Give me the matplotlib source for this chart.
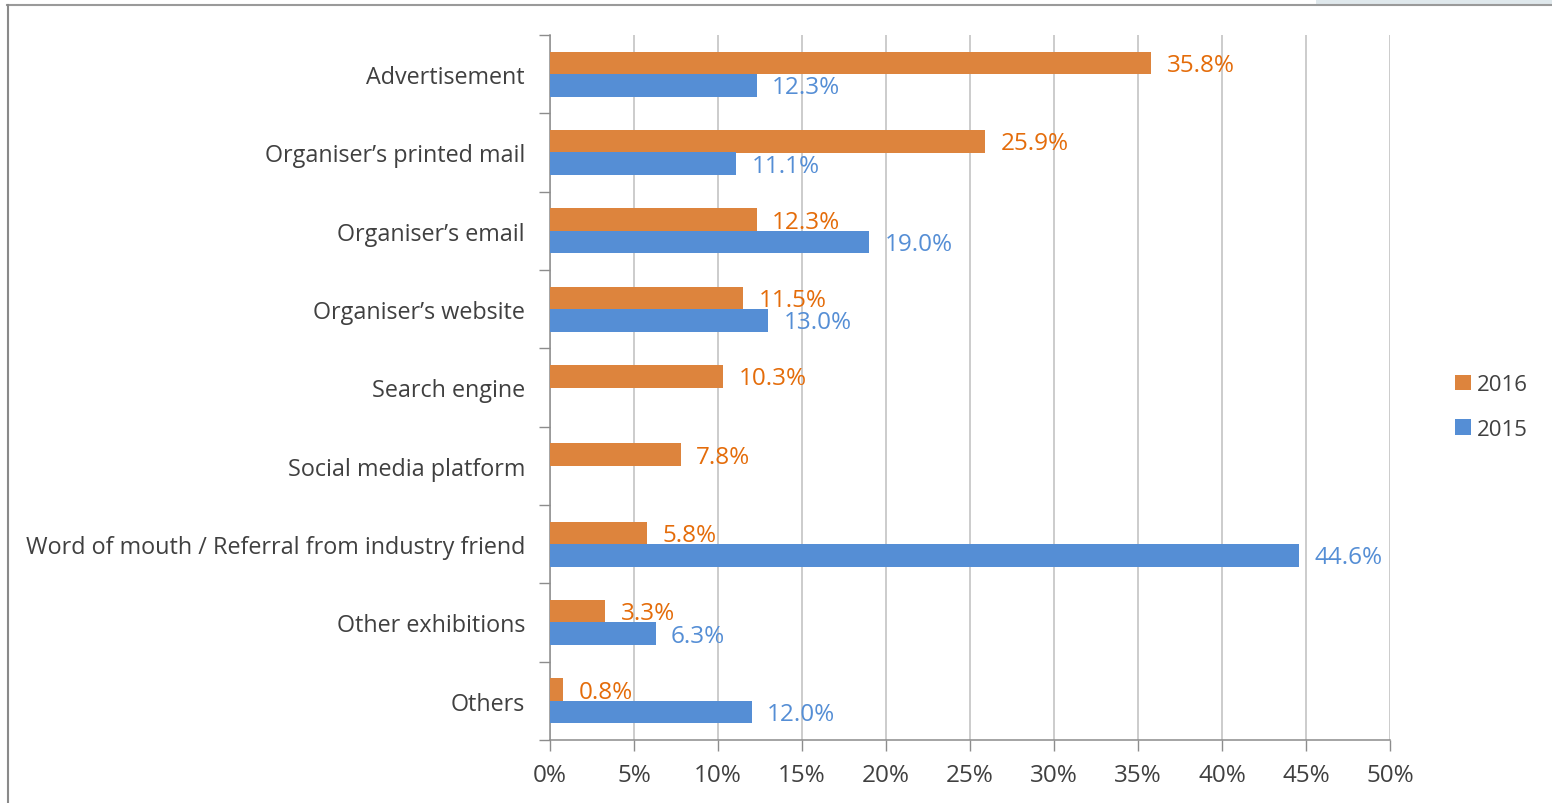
import matplotlib
matplotlib.use("Agg")
import matplotlib.pyplot as plt
from matplotlib.lines import Line2D
from matplotlib.patches import Rectangle, Patch
import numpy as np

categories = [
    "Advertisement",
    "Organiser’s printed mail",
    "Organiser’s email",
    "Organiser’s website",
    "Search engine",
    "Social media platform",
    "Word of mouth / Referral from industry friend",
    "Other exhibitions",
    "Others",
]
values_2016 = [35.8, 25.9, 12.3, 11.5, 10.3, 7.8, 5.8, 3.3, 0.8]
values_2015 = [12.3, 11.1, 19.0, 13.0, np.nan, np.nan, 44.6, 6.3, 12.0]
x_ticks = [0, 5, 10, 15, 20, 25, 30, 35, 40, 45, 50]

ORANGE = "#DD843D"
ORANGE_TXT = "#E46C0A"
BLUE = "#558ED5"
TEXT = "#404040"
GRID = "#C4C4C4"
AXIS = "#8C8C8C"

plt.rcParams["font.family"] = ["Open Sans", "DejaVu Sans"]

W, H = 1552, 804
fig = plt.figure(figsize=(W / 100, H / 100), dpi=100)
fig.patch.set_facecolor("white")
ax = fig.add_axes([550 / W, (H - 741) / H, (1390 - 550) / W, (741 - 36) / H])

y = np.arange(len(categories))
h = 0.287
off = 0.143
b16 = ax.barh(y - off, values_2016, height=h, color=ORANGE, label="2016", zorder=3)
v15 = np.nan_to_num(values_2015, nan=0.0)
b15 = ax.barh(y + off, v15, height=h, color=BLUE, label="2015", zorder=3)

labels16 = ax.bar_label(b16, labels=[f"{v:.1f}%" for v in values_2016], padding=11,
                        color=ORANGE_TXT, fontsize=17.5, zorder=4)
labels15 = ax.bar_label(b15, labels=["" if np.isnan(v) else f"{v:.1f}%" for v in values_2015],
                        padding=11, color=BLUE, fontsize=17.5, zorder=4)
for t in list(labels16) + list(labels15):
    dx, dy = t.xyann
    t.xyann = (dx, dy - 1.5)

ax.set_xlim(0, 50)
ax.set_ylim(len(categories) - 0.5, -0.5)

ax.set_xticks(x_ticks)
ax.set_xticklabels([f"{t}%" for t in x_ticks])
ax.tick_params(axis="x", length=8, width=1, color=AXIS, labelsize=17.5,
               labelcolor=TEXT, pad=8.5)
ax.xaxis.grid(True, color=GRID, linewidth=1.2, zorder=0)

ax.set_yticks(np.arange(len(categories) + 1) - 0.5)
ax.set_yticklabels([])
ax.set_yticks(y, minor=True)
ax.set_yticklabels(categories, minor=True)
ax.tick_params(axis="y", which="major", length=8, width=1, color=AXIS)
ax.tick_params(axis="y", which="minor", length=0, labelsize=16.8,
               labelcolor=TEXT, pad=18)
for t in ax.get_yticklabels(minor=True):
    t.set_y(t.get_position()[1])
    t.set_verticalalignment("center_baseline")

for s in ("top", "right"):
    ax.spines[s].set_visible(False)
for s in ("left", "bottom"):
    ax.spines[s].set_color(AXIS)
    ax.spines[s].set_linewidth(1.1)

handles = [Patch(facecolor=ORANGE, label="2016"), Patch(facecolor=BLUE, label="2015")]
fig.legend(handles=handles, loc="center left", bbox_to_anchor=(1435 / W, 1 - 408 / H),
           frameon=False, fontsize=16, handlelength=0.7, handleheight=0.7,
           handletextpad=0.3, labelspacing=1.05, labelcolor=TEXT)

# Outer frame of the chart area
fig.add_artist(Rectangle((1316 / W, 1 - 5 / H), 1 - 1316 / W, 5 / H,
                         transform=fig.transFigure, facecolor="#DFE8EC",
                         edgecolor="none"))
fig.add_artist(Line2D([7 / W, 1], [1 - 5.5 / H, 1 - 5.5 / H],
                      transform=fig.transFigure, color="#9A9A9A", linewidth=1.5))
fig.add_artist(Line2D([7.5 / W, 7.5 / W], [0, 1 - 5.5 / H],
                      transform=fig.transFigure, color="#8A8A8A", linewidth=1.5))

fig.savefig("out.png", dpi=100)
